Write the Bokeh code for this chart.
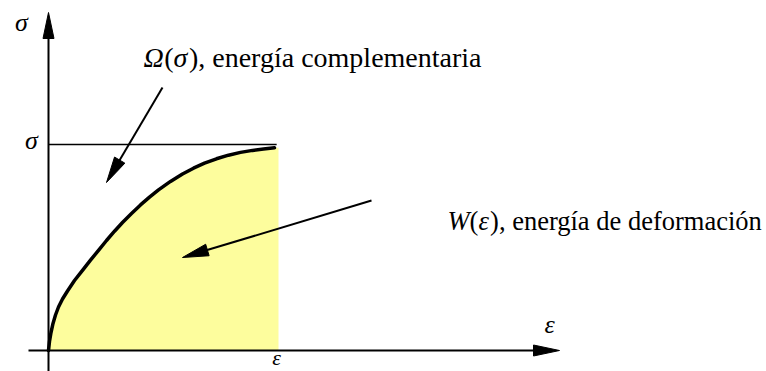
import math

from bokeh.core.properties import value
from bokeh.embed import file_html
from bokeh.models import Range1d
from bokeh.plotting import figure
from bokeh.resources import INLINE

# Stress-strain curve (normalised: strain 1 = final strain, stress 1 = final stress)
strain = [0.0, 0.0043, 0.0109, 0.0196, 0.0304, 0.0435, 0.0609, 0.0826, 0.1130,
          0.1478, 0.1826, 0.2174, 0.2522, 0.2870, 0.3217, 0.3609, 0.4000,
          0.4391, 0.4783, 0.5304, 0.5826, 0.6304, 0.6783, 0.7304, 0.7826,
          0.8348, 0.8870, 0.9348, 0.9826]
stress = [0.0, 0.0437, 0.0874, 0.1311, 0.1723, 0.2112, 0.2500, 0.2888, 0.3398,
          0.3893, 0.4383, 0.4864, 0.5340, 0.5791, 0.6214, 0.6655, 0.7068,
          0.7447, 0.7796, 0.8209, 0.8568, 0.8850, 0.9092, 0.9306, 0.9481,
          0.9617, 0.9714, 0.9777, 0.9840]
final_strain = 1.0
final_stress = 1.0

W, H = 766, 371
# pixel position of the origin and pixels per unit of strain / stress
X0, Y0 = 48, 350
SX, SY = 230, 206


def dx(px):
    return (px - X0) / SX


def dy(py):
    return (Y0 - py) / SY


SERIF = value("Liberation Serif")

p = figure(width=W, height=H, output_backend="svg", toolbar_location=None,
           x_range=Range1d(dx(0), dx(W)), y_range=Range1d(dy(H), dy(0)),
           x_axis_type=None, y_axis_type=None, min_border=0,
           background_fill_color="white", border_fill_color="white",
           outline_line_color=None)
p.grid.visible = False

# strain energy W(eps): area under the curve
fill_x = strain + [final_strain]
fill_top = stress + [stress[-1]]
p.varea(x=fill_x, y1=[0.0] * len(fill_x), y2=fill_top, fill_color="#fdfd9d")

# level of the final stress
p.line(x=[0, final_strain * 0.992], y=[final_stress, final_stress],
       line_color="black", line_width=1.5)

# coordinate axes
p.line(x=[dx(28), dx(536)], y=[0, 0], line_color="black", line_width=2)
p.line(x=[0, 0], y=[dy(H), dy(36)], line_color="black", line_width=2)


def head(tip, direction, length, half):
    ux, uy = direction
    n = math.hypot(ux, uy)
    ux, uy = ux / n, uy / n
    bx, by = tip[0] - ux * length, tip[1] - uy * length
    pts = [tip, (bx - uy * half, by + ux * half), (bx + uy * half, by - ux * half)]
    return [dx(a) for a, _ in pts], [dy(b) for _, b in pts]


def arrow(tail, tip, length=26, half=6):
    d = (tip[0] - tail[0], tip[1] - tail[1])
    n = math.hypot(*d)
    base = (tip[0] - d[0] / n * (length - 2), tip[1] - d[1] / n * (length - 2))
    p.line(x=[dx(tail[0]), dx(base[0])], y=[dy(tail[1]), dy(base[1])],
           line_color="black", line_width=2)
    hx, hy = head(tip, d, length, half)
    p.patch(x=hx, y=hy, fill_color="black", line_color="black", line_width=1)


# axis arrow heads
hx, hy = head((559, 350), (1, 0), 26, 5.5)
p.patch(x=hx, y=hy, fill_color="black", line_color="black")
hx, hy = head((48, 12), (0, -1), 26, 5.5)
p.patch(x=hx, y=hy, fill_color="black", line_color="black")

# the curve itself
p.line(x=strain, y=stress, line_color="black", line_width=3.5,
       line_join="round", line_cap="round")

# pointers to the two energies
arrow((162, 87), (106, 182))
arrow((371, 200), (182, 257))


def txt(px, py, s, size, style="normal", align="left", baseline="alphabetic"):
    p.text(x=[dx(px)], y=[dy(py)], text=[s], text_font=SERIF,
           text_font_size=f"{size}px", text_font_style=style,
           text_align=align, text_baseline=baseline, text_color="black")


# axis symbols
txt(21, 22, "σ", 26, "italic", "center", "middle")
txt(31, 140, "σ", 26, "italic", "center", "middle")
txt(549, 324, "ε", 26, "italic", "center", "middle")
txt(276, 357, "ε", 22, "italic", "center", "middle")

# complementary energy label
f1 = 28
x = 143
txt(x, 57, "Ω", f1, "italic")
x += 0.74 * f1
txt(x, 57, "(", f1)
x += 0.333 * f1
txt(x, 57, "σ", f1, "italic")
x += 0.55 * f1
txt(x, 57, "), energía complementaria", f1)

# strain energy label
f2 = 26.5
x = 447
txt(x, 220, "W", f2, "italic")
x += 0.833 * f2
txt(x, 220, "(", f2)
x += 0.333 * f2
txt(x, 220, "ε", f2, "italic")
x += 0.44 * f2
txt(x, 220, "), energía de deformación", f2)

open("out.html", "w").write(file_html(p, INLINE))
